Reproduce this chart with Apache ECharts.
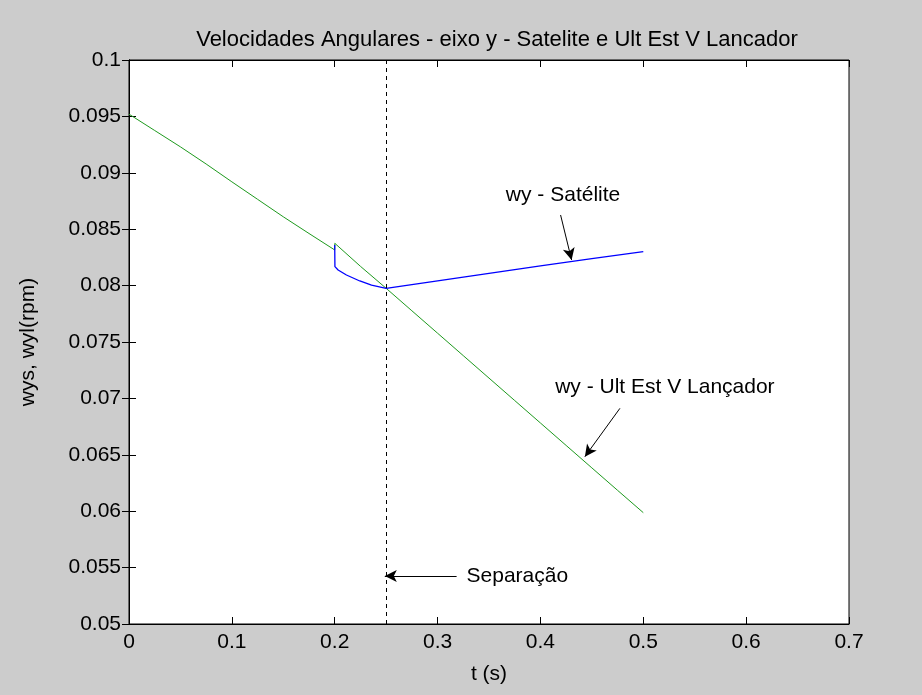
<!DOCTYPE html>
<html><head><meta charset="utf-8">
<script src="https://cdn.jsdelivr.net/npm/echarts@6/dist/echarts.min.js"></script>
<style>html,body{margin:0;padding:0;background:#cccccc;}#c{width:922px;height:695px;}</style>
</head><body><div id="c"></div>
<script>
const titleText = 'Velocidades Angulares - eixo y - Satelite e Ult Est V Lancador';
const xName = 't (s)';
const yName = 'wys, wyl(rpm)';
const xTicks = [0, 0.1, 0.2, 0.3, 0.4, 0.5, 0.6, 0.7];
const yTicks = [0.05, 0.055, 0.06, 0.065, 0.07, 0.075, 0.08, 0.085, 0.09, 0.095, 0.1];
const greenT = [0, 0.025, 0.05, 0.075, 0.1, 0.125, 0.15, 0.175, 0.2, 0.2001, 0.225, 0.25, 0.275, 0.3, 0.325, 0.35, 0.375, 0.4, 0.425, 0.45, 0.475, 0.5];
const greenW = [0.0952, 0.09375, 0.0923, 0.09078, 0.0892, 0.08765, 0.0861, 0.08462, 0.08316, 0.08375, 0.08171, 0.07976, 0.07777, 0.07578, 0.07379, 0.0718, 0.06981, 0.06782, 0.06583, 0.06384, 0.06185, 0.05987];
const blueT = [0.2, 0.2002, 0.2033, 0.2114, 0.2244, 0.2358, 0.25, 0.3, 0.35, 0.4, 0.45, 0.5];
const blueW = [0.0836, 0.08168, 0.08138, 0.08094, 0.08041, 0.08005, 0.07976, 0.08042, 0.08108, 0.08174, 0.0824, 0.08301];
const sepT = 0.25;
const labelSat = 'wy - Satélite';
const labelLan = 'wy - Ult Est V Lançador';
const labelSep = 'Separação';
// annotation anchors in data coordinates
const satText = [0.422, 0.0880];
const satArrow = [[0.4196, 0.08626], [0.4303, 0.08227]];
const lanText = [0.521, 0.0710];
const lanArrow = [[0.4773, 0.06912], [0.4432, 0.06483]];
const sepText = [0.3282, 0.05426];
const sepArrow = [[0.3185, 0.05426], [0.2487, 0.05426]];

const zip = (a, b) => a.map((v, i) => [v, b[i]]);
const font = 'Liberation Sans, Arial, sans-serif';
const FS = 21;
const chart = echarts.init(document.getElementById('c'));
const axisCommon = {
  axisLine: {show: true, lineStyle: {color: '#000', width: 1}},
  axisTick: {show: true, inside: true, length: 7, lineStyle: {color: '#000'}},
  splitLine: {show: false},
};
const arrowLine = (pts) => ({
  silent: true, symbol: ['none', 'arrow'], symbolSize: [9, 12],
  lineStyle: {color: '#000', width: 1, type: 'solid'}, label: {show: false},
  data: [[{coord: pts[0]}, {coord: pts[1]}]]
});
const textPoint = (pos, txt, align) => ({
  silent: true, symbol: 'rect', symbolSize: 0,
  label: {show: true, position: 'inside', formatter: txt, color: '#000', fontSize: FS, fontFamily: font, align: align},
  data: [{coord: pos}]
});
chart.setOption({
  backgroundColor: '#cccccc',
  animation: false,
  title: {text: titleText, left: 492, top: 24, textAlign: 'center',
    textStyle: {fontSize: 22, fontWeight: 'normal', color: '#000', fontFamily: font}},
  grid: {left: 129, right: 73, top: 60, bottom: 71, show: true, backgroundColor: '#fff', borderColor: '#000', borderWidth: 1},
  xAxis: [
    Object.assign({type: 'value', min: 0, max: 0.7, interval: 0.1, position: 'bottom',
      name: xName, nameLocation: 'middle', nameGap: 40,
      nameTextStyle: {fontSize: FS, color: '#000', fontFamily: font},
      axisLabel: {color: '#000', fontSize: FS, fontFamily: font, margin: 8, formatter: v => String(+v.toFixed(3))}}, axisCommon),
    Object.assign({type: 'value', min: 0, max: 0.7, interval: 0.1, position: 'top', axisLabel: {show: false}}, axisCommon)
  ],
  yAxis: [
    Object.assign({type: 'value', min: 0.05, max: 0.1, interval: 0.005, position: 'left',
      name: yName, nameLocation: 'middle', nameGap: 90,
      nameTextStyle: {fontSize: FS, color: '#000', fontFamily: font},
      axisLabel: {color: '#000', fontSize: FS, fontFamily: font, margin: 8, formatter: v => String(+v.toFixed(4))}}, axisCommon),
    Object.assign({type: 'value', min: 0.05, max: 0.1, interval: 0.005, position: 'right', axisLabel: {show: false}}, axisCommon)
  ],
  series: [
    {type: 'line', data: zip(greenT, greenW), showSymbol: false, lineStyle: {color: '#1e9a1e', width: 1}, itemStyle: {color: '#1e9a1e'},
      markLine: {silent: true, symbol: 'none', label: {show: false}, lineStyle: {color: '#000', type: [4, 4], width: 1},
        data: [{xAxis: sepT}]}},
    {type: 'line', data: zip(blueT, blueW), showSymbol: false, lineStyle: {color: '#0000ff', width: 1.3}, itemStyle: {color: '#0000ff'}},
    {type: 'line', data: [], markLine: arrowLine(satArrow), markPoint: textPoint(satText, labelSat, 'center')},
    {type: 'line', data: [], markLine: arrowLine(lanArrow), markPoint: textPoint(lanText, labelLan, 'center')},
    {type: 'line', data: [], markLine: arrowLine(sepArrow), markPoint: textPoint(sepText, labelSep, 'left')}
  ]
});
</script></body></html>
